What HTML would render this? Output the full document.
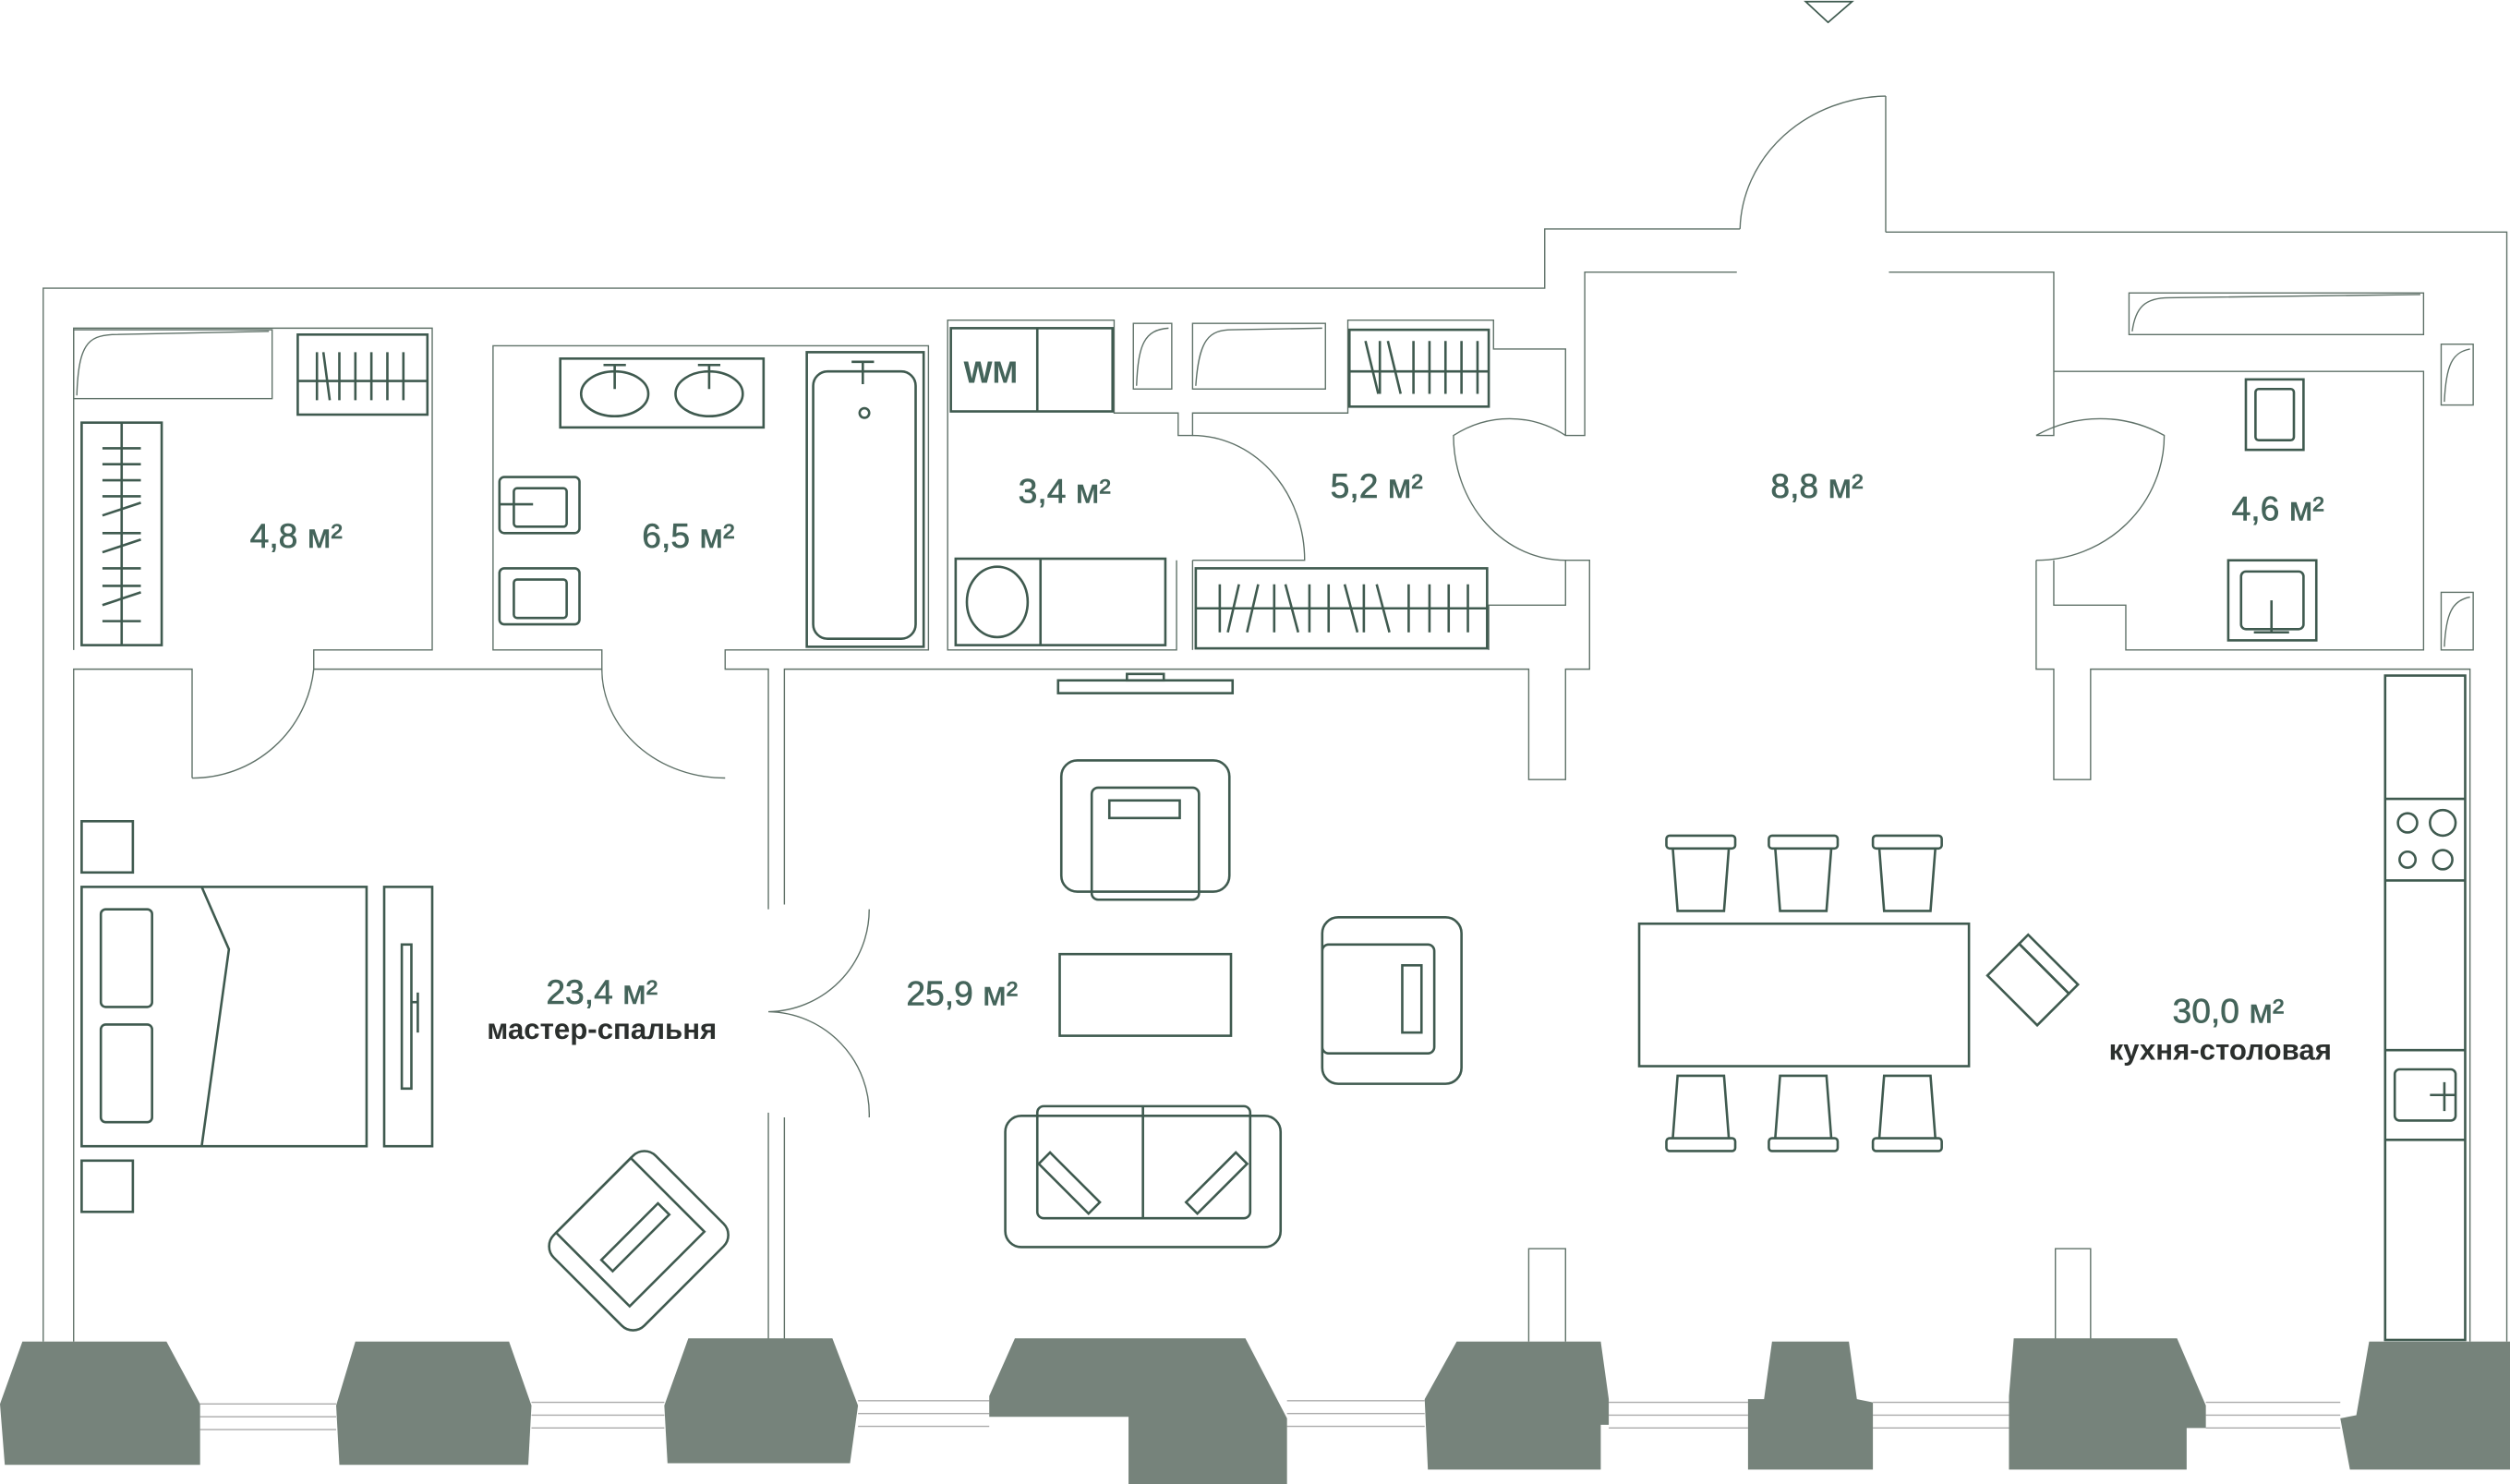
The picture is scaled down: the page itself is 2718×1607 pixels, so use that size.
<!DOCTYPE html>
<html><head><meta charset="utf-8"><style>
html,body{margin:0;padding:0;background:#fff;}
svg{display:block;}
text{font-family:"Liberation Sans",sans-serif;}
</style></head><body>
<svg width="2718" height="1607" viewBox="0 0 1568 927" preserveAspectRatio="none" xmlns="http://www.w3.org/2000/svg">
<g fill="none" stroke="#5f7168" stroke-width="0.8">
<polyline points="1178,145 1566,145 1566,838"/>
<polyline points="1087,143 965,143 965,180 27,180 27,838"/>
<line x1="1178" y1="60" x2="1178" y2="145"/>
<path d="M1087,143 A93,85 0 0 1 1178,60"/>
<polyline points="46,838 46,418 120,418 120,486"/>
<polyline points="46,406 46,205 270,205 270,406 196,406 196,418 376,418 376,406 308,406 308,216 580,216 580,406 453,406 453,418 480,418 480,568"/>
<polyline points="480,695 480,838"/>
<polyline points="490,838 490,698"/>
<polyline points="490,565 490,418 955,418 955,487 978,487 978,418 993,418 993,350 978,350 978,378 930,378 930,406"/>
<polyline points="745,406 745,350"/>
<polyline points="735,350 735,406 592,406 592,200 696,200 696,258 736,258 736,272 745,272 745,258 842,258 842,200 933,200 933,218 978,218 978,272 990,272 990,170 1085,170"/>
<polyline points="1180,170 1283,170 1283,272 1272,272"/>
<polyline points="1272,350 1272,418 1283,418 1283,487 1306,487 1306,418 1543,418 1543,838"/>
<polyline points="1283,350 1283,378 1328,378 1328,406 1514,406 1514,232 1283,232"/>
<path d="M120,486 A76,76 0 0 0 196,418"/>
<path d="M376,418 A77,68 0 0 0 453,486"/>
<path d="M745,272 A70,78 0 0 1 815,350 L745,350"/>
<path d="M978,272 A70,78 0 0 0 908,272 A70,78 0 0 0 978,350"/>
<path d="M1272,272 A80,78 0 0 1 1352,272 A80,78 0 0 1 1272,350"/>
<path d="M543,568 A64,64 0 0 1 480,632 A64,64 0 0 1 543,698"/>
<polyline points="955,838 955,780 978,780 978,838"/>
<polyline points="1284,838 1284,780 1306,780 1306,838"/>
<rect x="46" y="206" width="124" height="43"/><path d="M48,247 C49,215 55,210 70,209 L168,207"/>
<rect x="708" y="202" width="24" height="41"/><path d="M710,241 C711,215 715,206 730,205"/>
<rect x="745" y="202" width="83" height="41"/><path d="M747,241 C749,212 755,206 770,206 L826,205"/>
<rect x="1330" y="183" width="184" height="26"/><path d="M1332,207 C1334,192 1340,186 1355,186 L1512,184"/>
<rect x="1525" y="215" width="20" height="38"/><path d="M1527,251 C1528,228 1532,220 1543,218"/>
<rect x="1525" y="370" width="20" height="36"/><path d="M1527,404 C1528,383 1532,375 1543,373"/>
<g stroke="#aaa"><line x1="125" y1="877" x2="210" y2="877"/><line x1="125" y1="885" x2="210" y2="885"/><line x1="125" y1="893" x2="210" y2="893"/>
<line x1="332" y1="876" x2="415" y2="876"/><line x1="332" y1="884" x2="415" y2="884"/><line x1="332" y1="892" x2="415" y2="892"/>
<line x1="536" y1="875" x2="618" y2="875"/><line x1="536" y1="883" x2="618" y2="883"/><line x1="536" y1="891" x2="618" y2="891"/>
<line x1="804" y1="875" x2="890" y2="875"/><line x1="804" y1="883" x2="890" y2="883"/><line x1="804" y1="891" x2="890" y2="891"/>
<line x1="1005" y1="876" x2="1092" y2="876"/><line x1="1005" y1="884" x2="1092" y2="884"/><line x1="1005" y1="892" x2="1092" y2="892"/>
<line x1="1170" y1="876" x2="1255" y2="876"/><line x1="1170" y1="884" x2="1255" y2="884"/><line x1="1170" y1="892" x2="1255" y2="892"/>
<line x1="1378" y1="876" x2="1462" y2="876"/><line x1="1378" y1="884" x2="1462" y2="884"/><line x1="1378" y1="892" x2="1462" y2="892"/></g>
</g>
<g fill="#76837b">
<polygon points="14,838 104,838 125,877 125,915 3,915 0,877"/>
<polygon points="222,838 318,838 332,878 330,915 212,915 210,878"/>
<polygon points="430,836 520,836 536,878 531,914 417,914 415,878"/>
<polygon points="634,836 778,836 804,886 804,927 705,927 705,885 618,885 618,872"/>
<polygon points="910,838 1000,838 1005,874 1005,890 1000,890 1000,918 892,918 890,874"/>
<polygon points="1107,838 1155,838 1160,874 1170,876 1170,918 1092,918 1092,874 1102,874"/>
<polygon points="1258,836 1360,836 1378,878 1378,892 1366,892 1366,918 1255,918 1255,872"/>
<polygon points="1480,838 1568,838 1568,918 1468,918 1462,886 1472,884"/>
</g>
<g fill="none" stroke="#3f5a4f" stroke-width="1.5">
<rect x="186" y="209" width="81" height="50"/><line x1="186" y1="238" x2="267" y2="238"/>
<path d="M198,220v30M202,220l4,30M212,220v30M222,220v30M232,220v30M242,220v30M252,220v30"/>
<rect x="51" y="264" width="50" height="139"/><line x1="76" y1="264" x2="76" y2="403"/>
<path d="M64,280h24M64,290h24M64,300h24M64,310h24M64,322l24,-8M64,333h24M64,345l24,-8M64,355h24M64,366h24M64,378l24,-8M64,388h24"/>
<rect x="350" y="224" width="127" height="43"/>
<ellipse cx="384" cy="246" rx="21" ry="14"/><ellipse cx="443" cy="246" rx="21" ry="14"/>
<path d="M377,228h14M384,228v15M436,228h14M443,228v15"/>
<rect x="504" y="220" width="73" height="184"/><rect x="508" y="232" width="64" height="167" rx="9"/>
<path d="M532,226h14M539,226v14"/><circle cx="540" cy="258" r="3"/>
<rect x="312" y="298" width="50" height="35" rx="3"/><rect x="321" y="305" width="33" height="24" rx="2"/><line x1="312" y1="315" x2="333" y2="315"/>
<rect x="312" y="355" width="50" height="35" rx="3"/><rect x="321" y="362" width="33" height="24" rx="2"/>
<rect x="594" y="205" width="101" height="52"/><line x1="648" y1="205" x2="648" y2="257"/>
<rect x="597" y="349" width="131" height="54"/><line x1="650" y1="349" x2="650" y2="403"/><ellipse cx="623" cy="376" rx="19" ry="22"/>
<rect x="843" y="206" width="87" height="48"/><line x1="843" y1="232" x2="930" y2="232"/>
<path d="M853,213l8,33M862,213v33M867,213l8,33M883,213v33M893,213v33M903,213v33M913,213v33M923,213v33"/>
<rect x="747" y="355" width="182" height="50"/><line x1="747" y1="380" x2="929" y2="380"/>
<path d="M762,365v30M774,365l-7,30M786,365l-7,30M796,365v30M803,365l8,30M818,365v30M830,365v30M840,365l8,30M852,365v30M860,365l8,30M880,365v30M893,365v30M905,365v30M917,365v30"/>
<rect x="1403" y="237" width="36" height="44"/><rect x="1409" y="243" width="24" height="32" rx="2"/>
<rect x="1392" y="350" width="55" height="50"/><rect x="1400" y="357" width="39" height="36" rx="3"/><path d="M1419,375v20M1408,395h22"/>
<rect x="51" y="513" width="32" height="32"/><rect x="51" y="725" width="32" height="32"/>
<rect x="51" y="554" width="178" height="162"/>
<path d="M126,554 L143,593 L126,716"/>
<rect x="63" y="568" width="32" height="61" rx="3"/><rect x="63" y="640" width="32" height="61" rx="3"/>
<rect x="240" y="554" width="30" height="162"/><rect x="251" y="590" width="6" height="90"/><line x1="257" y1="626" x2="261" y2="626"/><line x1="261" y1="620" x2="261" y2="645"/>
<g transform="translate(399,775) rotate(-45)"><rect x="-45" y="-40" width="90" height="80" rx="10"/><rect x="-33" y="-40" width="66" height="65"/><rect x="-25" y="-8" width="50" height="10"/></g>
<rect x="661" y="425" width="109" height="8"/><rect x="704" y="421" width="23" height="4"/>
<rect x="663" y="475" width="105" height="82" rx="10"/><rect x="682" y="492" width="67" height="70" rx="4"/><rect x="693" y="500" width="44" height="11"/>
<rect x="662" y="596" width="107" height="51"/>
<rect x="826" y="573" width="87" height="104" rx="10"/><rect x="826" y="590" width="70" height="68" rx="4"/><rect x="876" y="603" width="12" height="42"/>
<rect x="628" y="697" width="172" height="82" rx="10"/><rect x="648" y="691" width="133" height="70" rx="4"/><line x1="714" y1="691" x2="714" y2="761"/>
<g transform="translate(668,739) rotate(45)"><rect x="-22" y="-5" width="44" height="10"/></g>
<g transform="translate(760,739) rotate(-45)"><rect x="-22" y="-5" width="44" height="10"/></g>
<rect x="1024" y="577" width="206" height="89"/>
<g id="ch"><rect x="1041" y="522" width="43" height="8" rx="2"/><path d="M1045,530 L1048,569 L1077,569 L1080,530"/></g>
<use href="#ch" x="64"/><use href="#ch" x="129"/>
<g transform="translate(0,1241) scale(1,-1)"><use href="#ch"/><use href="#ch" x="64"/><use href="#ch" x="129"/></g>
<g transform="translate(1267,615) rotate(45)"><rect x="-22" y="-14" width="44" height="28"/><rect x="-22" y="-22" width="44" height="8"/></g>
<rect x="1490" y="422" width="50" height="415"/>
<line x1="1490" y1="499" x2="1540" y2="499"/><line x1="1490" y1="550" x2="1540" y2="550"/>
<line x1="1490" y1="656" x2="1540" y2="656"/><line x1="1490" y1="712" x2="1540" y2="712"/>
<circle cx="1504" cy="514" r="6"/><circle cx="1526" cy="514" r="8"/><circle cx="1504" cy="537" r="5"/><circle cx="1526" cy="537" r="6"/>
<rect x="1496" y="668" width="38" height="32" rx="3"/><path d="M1518,684h16M1527,676v18"/>
<polygon points="1128,1 1157,1 1142,14" stroke-width="1"/>
</g>
<g fill="#44645a" stroke="#44645a" stroke-width="0.35" font-size="21.5">
<text x="185" y="342" text-anchor="middle">4,8 м²</text>
<text x="430" y="342" text-anchor="middle">6,5 м²</text>
<text x="665" y="314" text-anchor="middle">3,4 м²</text>
<text x="860" y="311" text-anchor="middle">5,2 м²</text>
<text x="1135" y="311" text-anchor="middle">8,8 м²</text>
<text x="1423" y="325" text-anchor="middle">4,6 м²</text>
<text x="376" y="627" text-anchor="middle">23,4 м²</text>
<text x="601" y="628" text-anchor="middle">25,9 м²</text>
<text x="1392" y="639" text-anchor="middle">30,0 м²</text>
<text x="602" y="239" font-size="19" font-weight="bold" stroke-width="0">WM</text>
</g>
<g fill="#2b2f2d" font-size="18" font-weight="bold">
<text x="376" y="649" text-anchor="middle">мастер-спальня</text>
<text x="1387" y="662" text-anchor="middle">кухня-столовая</text>
</g>
</svg>
</body></html>
